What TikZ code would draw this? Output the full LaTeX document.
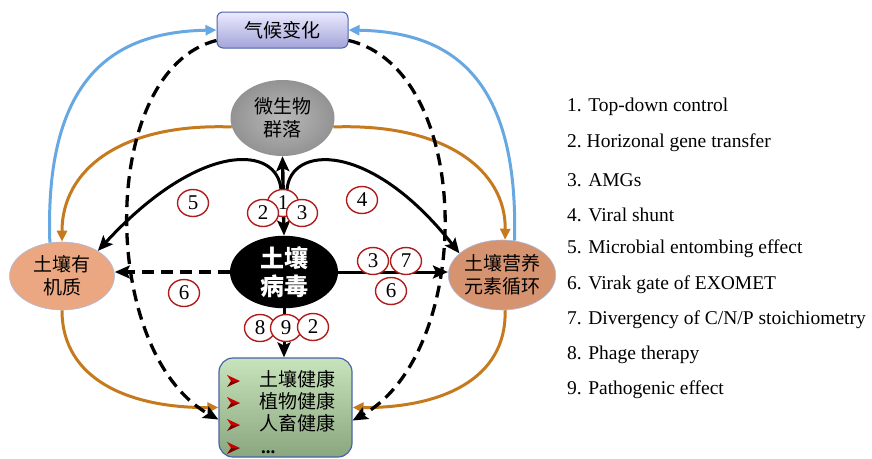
\documentclass[tikz,border=0pt]{standalone}
\usepackage{fontspec}
\setmainfont{Liberation Serif}
\newfontfamily\cjk{Noto Sans CJK SC}
\usetikzlibrary{shapes.geometric,arrows.meta,calc}
\definecolor{cblue}{HTML}{68A8E2}
\definecolor{corange}{HTML}{C67A1E}
\definecolor{cred}{HTML}{B01C1C}
\definecolor{boxline}{HTML}{4A63A8}
\tikzset{
  cjktext/.style={font=\cjk\fontsize{19}{23}\selectfont, align=center, text=black},
  numcirc/.style={ellipse, draw=cred, line width=1.4pt, fill=white, inner sep=0pt,
    minimum width=31pt, minimum height=27pt, font=\fontsize{21}{21}\selectfont},
  legend/.style={anchor=west, inner sep=0pt, font=\fontsize{19.5}{20}\selectfont},
  blkarrow/.style={line width=3pt, -{Stealth[length=15pt,width=13pt,inset=3pt]}},
  blkdash/.style={line width=3.3pt, dash pattern=on 12pt off 7pt, -{Stealth[length=15pt,width=13pt,inset=3pt]}},
  bluearrow/.style={draw=cblue, line width=3pt, -{Triangle[length=11pt,width=10pt]}},
  orgarrow/.style={draw=corange, line width=3pt, -{Triangle[length=11pt,width=10pt]}},
  redbul/.pic={
    \fill[red!80!black] (-6,-6) -- (7,0) -- (-2,0) -- cycle;
    \fill[red!50!black] (-6,6) -- (7,0) -- (-2,0) -- cycle;
  }
}
\begin{document}
\begin{tikzpicture}[x=1pt,y=-1pt]
\useasboundingbox (0,0) rectangle (872,458);

% nodes
\node[cjktext, draw=boxline, line width=1pt, rounded corners=6pt,
  top color=blue!8!white, bottom color=blue!25!white!85!black,
  minimum width=131pt, minimum height=36pt] (clim) at (282.5,30) {气候变化};
\node[cjktext, ellipse, inner sep=0pt, minimum width=104pt, minimum height=76pt,
  inner color=gray!55, outer color=gray!85] (mic) at (282.5,118) {微生物\\群落};
\node[ellipse, fill=black, inner sep=0pt, minimum width=108pt, minimum height=70pt,
  align=center, text=white, font=\cjk\bfseries\fontsize{24}{28}\selectfont] (vir) at (284,272) {土壤\\病毒};
\node[cjktext, ellipse, inner sep=0pt, fill={rgb,255:red,234;green,167;blue,129},
  draw={rgb,255:red,170;green,190;blue,228}, line width=0.6pt,
  minimum width=105pt, minimum height=68pt] (som) at (62,276) {土壤有\\机质};
\node[cjktext, ellipse, inner sep=0pt, fill={rgb,255:red,214;green,147;blue,112},
  draw={rgb,255:red,170;green,190;blue,228}, line width=0.6pt,
  minimum width=94pt, minimum height=70pt] (nut) at (502,275) {土壤营养\\元素循环};
\node[draw=boxline, line width=1.2pt, rounded corners=14pt,
  top color={rgb,255:red,200;green,228;blue,188}, bottom color={rgb,255:red,138;green,166;blue,127},
  minimum width=133pt, minimum height=99pt] (hl) at (285.5,407.5) {};

% items in health box
\foreach \yy/\tt [count=\i] in {381/土壤健康,403/植物健康,425/人畜健康} {
  \pic at (233,\yy) {redbul};
  \node[cjktext, anchor=west, inner sep=0pt, text height=14pt, text depth=3pt] (hitem\i) at (259,\yy) {\tt};
}
\pic at (233,448) {redbul};
\node[anchor=base west, inner sep=0pt, font=\fontsize{19}{19}\selectfont\bfseries] (hitem4) at (261,453) {...};

% connectors: blue
\draw[bluearrow] (som.110) .. controls (44,70) and (120,32) .. (clim.west);
\draw[bluearrow] (nut.70) .. controls (519,70) and (445,32) .. (clim.east);
% orange
\draw[orgarrow] (mic.190) .. controls (120,123) and (62,170) .. (som.north);
\draw[orgarrow] (mic.-10) .. controls (445,123) and (506,170) .. (nut.85);
\draw[orgarrow] (som.south) .. controls (62,380) and (130,408) .. (hl.west);
\draw[orgarrow] (nut.-85) .. controls (507,380) and (440,408) .. (hl.east);
% dashed big arcs
\draw[blkdash] (clim.189) .. controls (98,70) and (98,352) .. ([yshift=-12pt]hl.west);
\draw[blkdash] (clim.-9) .. controls (475,70) and (475,352) .. ([yshift=-13pt]hl.east);
% central links
\coordinate (jl) at (281,190);
\coordinate (jr) at (287,190);
\draw[blkarrow] (jl) .. controls (278,145) and (200,140) .. (som.35);
\draw[blkarrow] (jr) .. controls (290,145) and (370,140) .. (nut.153);
\draw[line width=3.4pt, {Stealth[length=15pt,width=13pt,inset=3pt]}-{Stealth[length=15pt,width=13pt,inset=3pt]}]
  (mic.south) -- (vir.north);
\draw[blkarrow] (vir.east) -- (vir.east -| nut.west);
\draw[blkdash] (vir.west) -- (vir.west -| som.east);
\draw[blkarrow] (vir.south) -- (vir.south |- hl.north);

% numbered circles
\node[numcirc] (c5) at (193,203) {5};
\node[numcirc] (c1) at (283,203) {1};
\node[numcirc] (c2a) at (263,213) {2};
\node[numcirc] (c3a) at (302,213) {3};
\node[numcirc] (c4) at (362,200) {4};
\node[numcirc] (c3b) at (373,261) {3};
\node[numcirc] (c7) at (406,261) {7};
\node[numcirc] (c6b) at (391,291) {6};
\node[numcirc] (c6a) at (184,293) {6};
\node[numcirc] (c8) at (260,328) {8};
\node[numcirc] (c9) at (286,328) {9};
\node[numcirc] (c2b) at (313,327) {2};

% legend
\node[legend] (l1) at (567,107) {1. Top-down control};
\node[legend] (l2) at (567,143) {2.\ Horizonal gene transfer};
\node[legend] (l3) at (567,180) {3. AMGs};
\node[legend] (l4) at (567,215) {4. Viral shunt};
\node[legend] (l5) at (567,249) {5. Microbial entombing effect};
\node[legend] (l6) at (567,285) {6. Virak gate of EXOMET};
\node[legend] (l7) at (567,320) {7. Divergency of C/N/P stoichiometry};
\node[legend] (l8) at (567,355) {8. Phage therapy};
\node[legend] (l9) at (567,390) {9. Pathogenic effect};
\end{tikzpicture}
\end{document}
